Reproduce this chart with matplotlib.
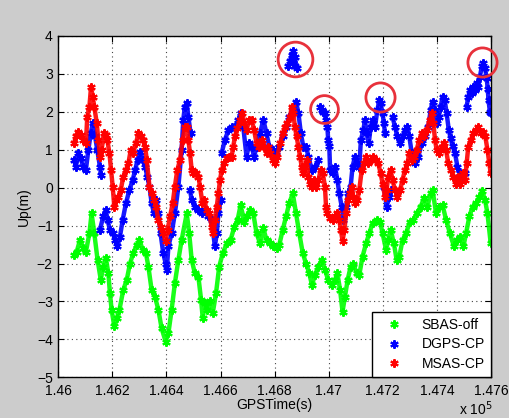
import matplotlib
matplotlib.use("Agg")
import matplotlib.pyplot as plt
import numpy as np

plt.rcParams['font.family'] = ['Liberation Sans', 'DejaVu Sans']

# SBAS-off
t_sbas = [146058, 146068, 146080, 146092, 146102, 146115, 146123, 146133, 146145, 146157,
          146166, 146176, 146185, 146191, 146197, 146207, 146216, 146226, 146240, 146253,
          146265, 146277, 146290, 146300, 146312, 146324, 146333, 146345, 146357, 146370,
          146382, 146397, 146407, 146419, 146431, 146444, 146456, 146475, 146484, 146493,
          146505, 146518, 146528, 146534, 146542, 146551, 146561, 146571, 146583, 146595,
          146608, 146623, 146637, 146651, 146663, 146674, 146688, 146696, 146709, 146721,
          146733, 146746, 146758, 146770, 146783, 146795, 146807, 146817, 146830, 146842,
          146854, 146867, 146879, 146891, 146904, 146916, 146928, 146938, 146949, 146962,
          146974, 146986, 146998, 147011, 147023, 147032, 147042, 147051, 147060, 147070,
          147081, 147091, 147103, 147113, 147125, 147138, 147150, 147162, 147177, 147190,
          147199, 147212, 147220, 147229, 147241, 147251, 147261, 147273, 147286, 147300,
          147313, 147325, 147340, 147352, 147365, 147377, 147384, 147397, 147409, 147421,
          147434, 147448, 147463, 147473, 147485, 147498, 147508, 147520, 147532, 147545,
          147557, 147567, 147578, 147587, 147599]
up_sbas = [-1.77, -1.69, -1.38, -1.60, -1.69, -1.20, -0.68, -1.20, -1.90, -2.43,
           -2.08, -1.86, -2.26, -2.79, -3.22, -3.66, -3.44, -3.22, -2.70, -2.43,
           -2.00, -1.73, -1.51, -1.38, -1.64, -1.73, -2.08, -2.70, -2.87, -3.22,
           -3.71, -4.06, -3.84, -3.22, -2.52, -1.90, -1.38, -0.68, -1.20, -1.90,
           -2.26, -2.35, -2.96, -3.44, -3.05, -3.22, -3.00, -3.31, -2.79, -2.08,
           -1.73, -1.47, -1.38, -1.03, -0.85, -0.46, -0.90, -0.76, -0.59, -0.68,
           -1.20, -1.47, -1.07, -1.38, -1.47, -1.55, -1.60, -1.51, -1.11, -0.76,
           -0.41, -0.15, -0.68, -1.20, -1.73, -2.00, -2.26, -2.57, -2.30, -2.08,
           -1.90, -2.17, -2.43, -2.57, -2.43, -2.26, -2.70, -3.27, -2.87, -2.43,
           -2.08, -2.00, -2.26, -2.30, -1.82, -1.47, -1.20, -0.94, -0.85, -0.90,
           -1.20, -1.64, -1.38, -1.11, -1.47, -1.90, -1.82, -1.38, -1.20, -0.90,
           -0.85, -0.68, -0.50, -0.28, -0.50, -0.15, -0.06, -0.68, -0.50, -0.46,
           -0.85, -1.20, -1.55, -1.38, -1.29, -1.55, -1.20, -0.76, -0.50, -0.41,
           -0.24, -0.10, -0.32, -0.68, -1.47]

# DGPS-CP
t_dgps = [146058, 146065, 146074, 146083, 146092, 146102, 146111, 146120, 146127, 146136,
          146144, 146154, 146158,
          146154, 146166, 146176, 146182, 146191, 146201, 146210, 146218, 146228, 146238,
          146250, 146263, 146275, 146284, 146293, 146302, 146312, 146321, 146329, 146337,
          146345, 146354, 146361, 146370, 146378, 146388, 146397, 146401, 146407, 146419,
          146431, 146444, 146456, 146462, 146468, 146475, 146481, 146489,
          146487, 146493, 146505, 146518, 146530, 146542, 146555, 146567, 146579, 146586,
          146592, 146600, 146604, 146616, 146629, 146641, 146653, 146666, 146674, 146684,
          146696, 146706, 146715, 146724, 146733, 146746, 146758, 146770, 146780, 146793,
          146805, 146817, 146830, 146842, 146854, 146867, 146879, 146888, 146897, 146906,
          146916, 146925, 146937, 146949, 146962,
          146851, 146857, 146863, 146869, 146875, 146881, 146869, 146875,
          146968, 146974, 146980, 146986, 146990, 146995, 146998, 147002,
          147005, 147015, 147023, 147032, 147039, 147048, 147054, 147064, 147072, 147081,
          147088, 147097, 147106, 147113, 147119, 147128, 147134, 147140, 147148, 147155,
          147162, 147171, 147180, 147187, 147192, 147199, 147204, 147208,
          147204, 147214, 147224, 147229,
          147236, 147245, 147254, 147264, 147273, 147282, 147291, 147298,
          147307, 147319, 147331, 147344, 147356, 147368, 147377, 147384, 147392, 147399,
          147407, 147414, 147421, 147429, 147436, 147444, 147451, 147458, 147467, 147476,
          147485, 147495, 147504, 147510, 147516, 147522, 147529, 147535, 147541, 147547,
          147553, 147559, 147566, 147572, 147578, 147584, 147588, 147591, 147596, 147600]
up_dgps = [0.73, 0.55, 0.91, 0.77, 0.55, 0.47, 1.00, 1.43, 1.70, 1.35,
           1.00, 0.55, 0.33,
           -1.11, -0.76, -0.59, -0.85, -1.12, -1.20, -1.38, -1.55, -1.29, -0.85,
           -0.41, -0.06, 0.20, 0.47, 0.73, 0.95, 0.73, 0.55, 0.29, 0.03,
           -0.41, -0.68, -0.32, -0.68, -1.20, -1.73, -2.00, -2.17, -1.55, -1.20,
           -0.68, 0.03, 1.00, 1.79, 2.14, 2.22, 1.87, 1.43,
           -0.06, -0.32, -0.50, -0.59, -0.68, -0.59, -0.76, -0.85, -1.55, -1.20,
           -0.68, -0.32, 0.91, 1.26, 1.52, 1.60, 1.60, 1.79, 1.96, 1.60,
           0.82, 1.17, 1.08, 0.82, 1.08, 1.43, 1.79, 1.43, 1.08, 1.00,
           0.95, 1.08, 1.35, 1.60, 1.87, 2.05, 2.27, 1.96, 1.43, 1.08,
           1.08, 0.82, 0.47, 0.55, 0.73,
           3.20, 3.35, 3.50, 3.60, 3.45, 3.15, 3.30, 3.20,
           2.14, 2.05, 2.00, 1.96, 1.79, 1.60, 1.26, 1.10,
           0.47, 0.38, 0.55, 0.20, -0.15, -0.50, -0.85, -0.50, -0.15, 0.03,
           0.55, 0.82, 0.64, 0.55, 1.26, 1.52, 1.79, 1.43, 1.17, 1.60,
           1.79, 1.60, 2.05, 2.31, 2.22, 1.96, 1.70, 1.43,
           0.03, -0.50, -0.24, -0.06,
           1.87, 1.60, 1.35, 1.17, 1.35, 1.52, 1.60, 1.35,
           0.91, 0.64, 0.82, 1.17, 1.35, 1.60, 2.05, 2.27, 2.05, 1.70,
           1.87, 2.14, 2.40, 2.31, 1.96, 1.52, 1.30, 1.10, 0.91, 0.55,
           0.38, 0.29, 0.38, 2.14, 2.40, 2.57, 2.49, 2.66, 2.57, 2.75,
           2.66, 2.92, 3.20, 3.30, 3.15, 2.90, 2.60, 2.30, 2.00, 1.96]

# MSAS-CP
t_msas = [146058, 146065, 146074, 146083, 146092, 146102, 146107, 146115, 146121, 146127,
          146133, 146142, 146148, 146154, 146160, 146169, 146176, 146181, 146189, 146195,
          146201, 146207, 146213, 146222, 146231, 146240, 146250, 146259, 146268, 146277,
          146287, 146296, 146304, 146312, 146321, 146327, 146337, 146345, 146354, 146361,
          146370, 146378, 146388, 146397, 146404, 146413, 146423, 146431, 146440, 146450,
          146460, 146468, 146475, 146481, 146487, 146493, 146499, 146509, 146518, 146524,
          146533, 146539, 146549, 146558, 146567, 146573, 146579, 146586, 146592, 146598,
          146604, 146613, 146623, 146632, 146641, 146647, 146653, 146662, 146672, 146680,
          146688, 146696, 146706, 146715, 146724, 146733, 146743, 146752, 146761, 146770,
          146777, 146783, 146793, 146801, 146810, 146820, 146830, 146838, 146847, 146857,
          146863, 146869, 146875, 146881, 146888, 146894, 146900, 146906, 146912, 146918,
          146925, 146931, 146937, 146945, 146953, 146962, 146970, 146978, 146986, 146990,
          146995, 147005, 147015, 147023, 147032, 147039, 147045, 147051, 147058, 147064,
          147070, 147079, 147085, 147091, 147098, 147106, 147113, 147122, 147130, 147138,
          147146, 147155, 147165, 147175, 147183, 147192, 147199, 147208, 147214, 147220,
          147229, 147236, 147245, 147254, 147264, 147273, 147282, 147291, 147298, 147307,
          147315, 147325, 147335, 147344, 147352, 147362, 147374, 147381, 147387, 147393,
          147399, 147409, 147418, 147426, 147434, 147442, 147451, 147461, 147471, 147479,
          147485, 147495, 147504, 147510, 147516, 147525, 147535, 147545, 147553, 147562,
          147572, 147579, 147587, 147594, 147599]
up_msas = [1.17, 1.35, 1.48, 1.40, 1.26, 1.17, 1.87, 2.14, 2.66, 2.40,
           2.14, 1.70, 1.26, 0.82, 1.00, 1.43, 1.40, 1.26, 0.91, 0.47,
           0.03, -0.50, -0.32, -0.24, -0.06, 0.29, 0.47, 0.64, 1.00, 0.91,
           1.17, 1.43, 1.35, 1.26, 1.08, 0.73, 0.03, -0.15, -0.32, -0.50,
           -0.85, -1.03, -1.20, -1.40, -1.12, -0.76, -0.41, 0.03, 0.47, 0.73,
           1.26, 1.60, 1.60, 1.26, 0.91, 0.47, 0.38, 0.38, 0.29, 0.03,
           -0.41, -0.32, -0.59, -0.68, -1.03, -1.20, -0.85, -0.50, -0.15, 0.20,
           0.47, 0.64, 0.77, 0.82, 0.82, 1.08, 1.35, 1.57, 1.79, 1.96,
           1.70, 1.52, 1.79, 1.79, 1.52, 1.17, 1.08, 1.26, 1.08, 0.91,
           1.08, 0.91, 0.73, 0.64, 0.82, 1.17, 1.43, 1.60, 1.70, 1.87,
           2.14, 1.96, 1.60, 1.35, 1.08, 0.82, 0.55, 0.38, 0.55, 0.73,
           0.29, 0.11, 0.03, 0.20, 0.03, 0.20, 0.47, 0.38, 0.03, -0.50,
           -0.68, -0.81, -0.85, -0.76, -0.68, -0.85, -1.12, -1.40, -1.12, -0.68,
           -0.32, -0.15, 0.03, -0.24, -0.41, -0.32, -0.06, 0.47, 0.64, 0.82,
           0.64, 0.73, 0.82, 0.73, 0.64, 0.38, 0.11, -0.24, -0.06, 0.29,
           0.47, 0.20, -0.06, -0.24, -0.06, 0.20, 0.47, 0.64, 0.91, 0.73,
           0.82, 1.00, 1.26, 1.43, 1.35, 1.52, 1.79, 1.96, 1.70, 1.26,
           1.00, 0.91, 1.08, 1.17, 1.00, 0.64, 0.47, 0.29, 0.11, 0.29,
           0.11, 0.38, 0.20, 0.64, 1.08, 1.26, 1.43, 1.52, 1.60, 1.43,
           1.48, 1.35, 1.00, 0.64, 0.38]

# red circles around the DGPS jumps
t_marked = [146875, 146984, 147189, 147567]
up_marked = [3.39, 2.07, 2.38, 3.32]
ring_size = [25, 20, 21, 21]

x_ticks = [146000, 146200, 146400, 146600, 146800, 147000, 147200, 147400, 147600]
x_labels = ['1.46', '1.462', '1.464', '1.466', '1.468', '1.47', '1.472', '1.474', '1.476']
y_ticks = [-5, -4, -3, -2, -1, 0, 1, 2, 3, 4]


def broken(t, u, jump=1.0):
    # break the trail where the series jumps (new track or going back in time)
    t = np.asarray(t, float)
    u = np.asarray(u, float)
    cut = np.where((np.abs(np.diff(u)) > jump) | (np.diff(t) <= 0))[0] + 1
    return np.insert(t, cut, np.nan), np.insert(u, cut, np.nan)


fig = plt.figure(figsize=(5.09, 4.18), dpi=100, facecolor='#cccccc')
ax = fig.add_axes([0.1146, 0.0974, 0.8500, 0.8165])

star = (6, 2, 0)
series = [(t_sbas, up_sbas, '#00ff00', 'SBAS-off'),
          (t_dgps, up_dgps, '#0000ff', 'DGPS-CP'),
          (t_msas, up_msas, '#ff0000', 'MSAS-CP')]
for t, u, c, name in series:
    bt, bu = broken(t, u)
    ax.plot(bt, bu, '-', lw=3.2, color=c, alpha=0.9, solid_capstyle='round')
    ax.plot(t, u, linestyle='none', marker=star, ms=6, mew=1.5, color=c, label=name)

for t, u, s in zip(t_marked, up_marked, ring_size):
    ax.plot(t, u, marker='o', ms=s, mfc='none', mec='#e8313b', mew=2, clip_on=False, zorder=5)

ax.set_xlim(146000, 147600)
ax.set_ylim(-5, 4)
ax.set_xticks(x_ticks)
ax.set_xticklabels(x_labels)
ax.set_yticks(y_ticks)
ax.tick_params(direction='in', top=True, right=True, length=4, labelsize=10)
ax.tick_params(axis='x', pad=5)
ax.tick_params(axis='y', pad=4)
ax.grid(True, linestyle=(0, (1, 3)), color='#444444', linewidth=0.8)
for sp in ax.spines.values():
    sp.set_linewidth(1.0)

ax.set_xlabel('GPSTime(s)', fontsize=10, labelpad=0)
ax.set_ylabel('Up(m)', fontsize=10, labelpad=4)
fig.text(0.935, 0.0, r'x 10$^5$', ha='center', va='bottom', fontsize=10)

leg = ax.legend(loc='lower right', borderaxespad=0, fancybox=False, edgecolor='black',
                framealpha=1, fontsize=10, handlelength=2.2, handletextpad=0.9,
                labelspacing=0.4, borderpad=0.45)
leg.get_frame().set_linewidth(1.0)

fig.savefig('out.png', dpi=100, facecolor=fig.get_facecolor())
